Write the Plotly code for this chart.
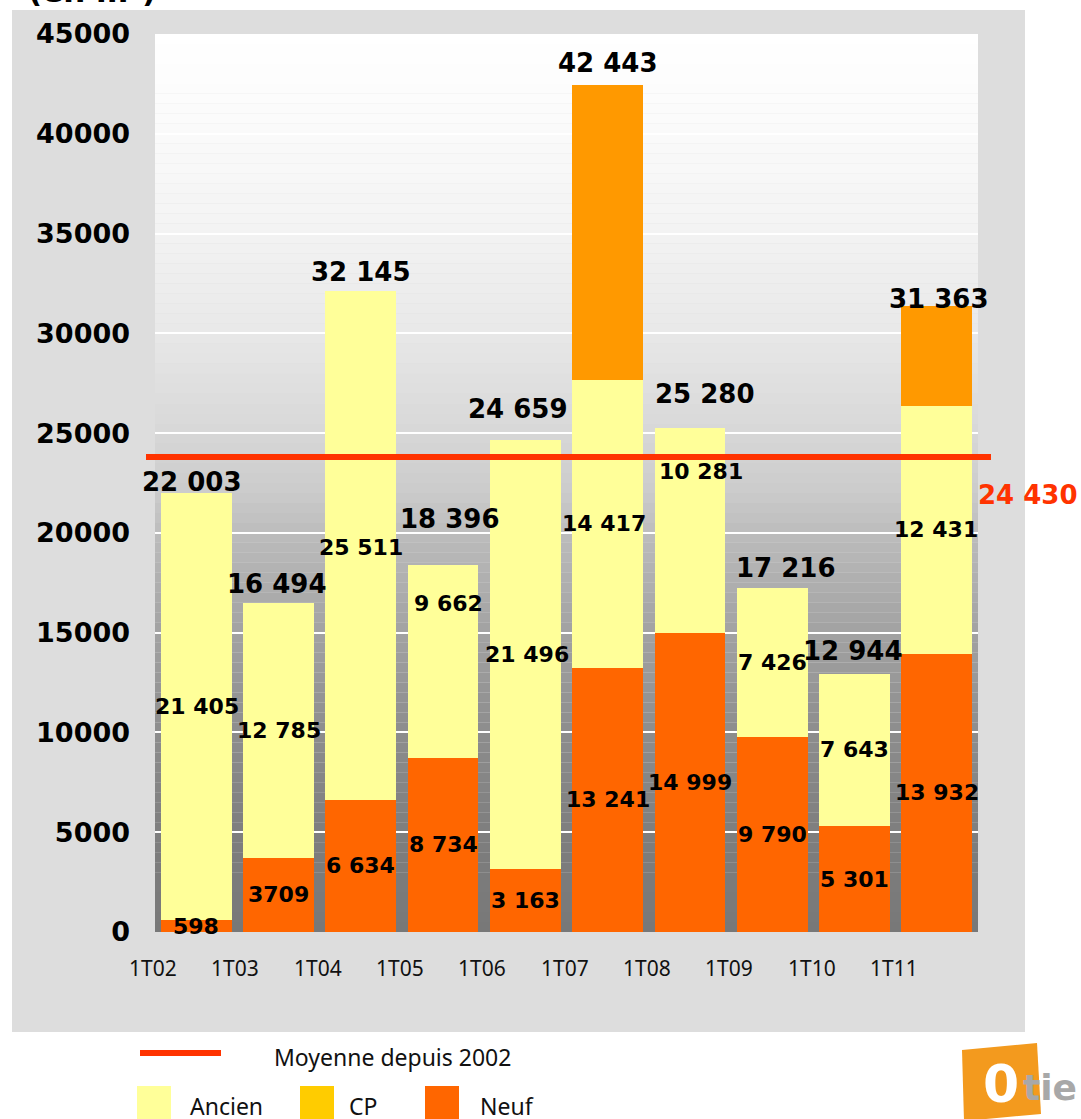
import numpy as np
import plotly.graph_objects as go

# ---------------- data ----------------
categories = ["1T02", "1T03", "1T04", "1T05", "1T06", "1T07", "1T08", "1T09", "1T10", "1T11"]
neuf = [598, 3709, 6634, 8734, 3163, 13241, 14999, 9790, 5301, 13932]
ancien = [21405, 12785, 25511, 9662, 21496, 14417, 10281, 7426, 7643, 12431]
cp = [0, 0, 0, 0, 0, 14785, 0, 0, 0, 5000]
totals = [22003, 16494, 32145, 18396, 24659, 42443, 25280, 17216, 12944, 31363]
moyenne_line = 23800          # where the line is drawn in the picture
moyenne_label = "24 430"
y_ticks = [0, 5000, 10000, 15000, 20000, 25000, 30000, 35000, 40000, 45000]

series_names = ["Ancien", "CP", "Neuf"]
series_colors = {"Neuf": "#FF6600", "Ancien": "#FFFF99", "CP": "#FF9900"}
legend_colors = {"Ancien": "#FFFF99", "CP": "#FFCC00", "Neuf": "#FF6600"}
line_color = "#FF3300"


def fr(v):
    return f"{v:,}".replace(",", " ")


neuf_text = [fr(v) for v in neuf]
neuf_text[1] = "3709"  # as written on the original
ancien_text = [fr(v) for v in ancien]
total_text = [fr(v) for v in totals]

# small label nudges (pixels) to mimic the original placement
total_dx = [-4, -1, 0, 7, -7, 0, 15, 14, -2, 2]
total_dy = [11, 19, 19, 46, 31, 22, 34, 20, 23, 7]
ancien_dx = [1, 1, 0, 5, 2, -4, 11, 0, 0, -1]
ancien_dy = [0, 0, -2, 58, 0, 0, 59, 0, 0, 0]

# ---------------- geometry ----------------
W, H = 1081, 1119
L, T = 155, 34
R = W - L - 823
B = H - T - 898
PW, PH = W - L - R, H - T - B
Y_MAX = 45000


def px(x):
    # page pixel -> paper coordinate
    return (x - L) / PW


def py(y):
    return (H - B - y) / PH


fig = go.Figure()
fig.add_trace(go.Bar(x=categories, y=neuf, name="Neuf", marker=dict(color=series_colors["Neuf"], line=dict(width=0)), showlegend=False))
fig.add_trace(go.Bar(x=categories, y=ancien, name="Ancien", marker=dict(color=series_colors["Ancien"], line=dict(width=0)), showlegend=False))
fig.add_trace(go.Bar(x=categories, y=cp, name="CP", marker=dict(color=series_colors["CP"], line=dict(width=0)), showlegend=False))

shapes = []
# outer grey panel
shapes.append(dict(type="rect", xref="paper", yref="paper", x0=px(12), x1=px(1025), y0=py(10), y1=py(1032),
                   fillcolor="#DDDDDD", line=dict(width=0), layer="below"))
# gradient background of plot area
stops_v = [0, 5000, 10000, 15000, 20000, 22000, 25000, 30000, 35000, 40000, 45000]
stops_g = [120, 126, 141, 162, 188, 203, 215, 232, 243, 250, 255]
n = 90
for i in range(n):
    y0 = Y_MAX * i / n
    y1 = Y_MAX * (i + 1) / n
    g = int(round(np.interp((y0 + y1) / 2, stops_v, stops_g)))
    shapes.append(dict(type="rect", xref="x", yref="y", x0=-0.5, x1=len(categories) - 0.5, y0=y0, y1=y1,
                       fillcolor=f"rgb({g},{g},{g})", line=dict(width=0), layer="below"))
# average line
shapes.append(dict(type="line", xref="paper", yref="paper", x0=px(146), x1=px(991),
                   y0=moyenne_line / Y_MAX, y1=moyenne_line / Y_MAX,
                   line=dict(color=line_color, width=6), layer="above"))
# legend: line sample + squares
shapes.append(dict(type="line", xref="paper", yref="paper", x0=px(140), x1=px(221), y0=py(1053), y1=py(1053),
                   line=dict(color=line_color, width=6)))
legend_sq = {"Ancien": (137, 188), "CP": (300, 347), "Neuf": (425, 478)}
for name in series_names:
    x0, _ = legend_sq[name]
    shapes.append(dict(type="rect", xref="paper", yref="paper", x0=px(x0), x1=px(x0 + 34), y0=py(1086), y1=py(1121),
                       fillcolor=legend_colors[name], line=dict(width=0)))
# logo
shapes.append(dict(type="path", xref="paper", yref="paper",
                   path=f"M {px(962)},{py(1050)} L {px(1037)},{py(1043)} L {px(1041)},{py(1114)} L {px(964)},{py(1121)} Z",
                   fillcolor="#F39A1E", line=dict(width=0)))

ann = []
bold = dict(family="DejaVu Sans", weight="bold", color="#000000")
for i, c in enumerate(categories):
    # totals
    ann.append(dict(x=c, y=totals[i], xref="x", yref="y", text=total_text[i], showarrow=False,
                    xanchor="center", yanchor="middle", xshift=total_dx[i], yshift=total_dy[i],
                    font=dict(size=26, **bold)))
    # neuf labels
    ann.append(dict(x=c, y=neuf[i] / 2, xref="x", yref="y", text=neuf_text[i], showarrow=False,
                    xanchor="center", yanchor="middle", font=dict(size=22, **bold)))
    # ancien labels
    ann.append(dict(x=c, y=neuf[i] + ancien[i] / 2, xref="x", yref="y", text=ancien_text[i], showarrow=False,
                    xanchor="center", yanchor="middle", xshift=ancien_dx[i], yshift=ancien_dy[i],
                    font=dict(size=22, **bold)))
    # category labels (sit on the left boundary of each category)
    ann.append(dict(x=c, y=0, xref="x", yref="paper", text=c, showarrow=False,
                    xanchor="center", yanchor="middle", xshift=-43, yshift=-36,
                    font=dict(family="Noto Sans", size=21, color="#111111")))

# average value label
ann.append(dict(x=px(1028), y=py(495), xref="paper", yref="paper", text=moyenne_label, showarrow=False,
                xanchor="center", yanchor="middle", font=dict(family="DejaVu Sans", weight="bold", size=26, color=line_color)))
# cut-off unit title
ann.append(dict(x=px(26), y=py(-9), xref="paper", yref="paper", text="(en m²)", showarrow=False,
                xanchor="left", yanchor="middle", font=dict(family="DejaVu Sans", weight="bold", size=31, color="#000")))
# legend texts
legend_font = dict(family="Noto Sans", size=23, color="#111111")
ann.append(dict(x=px(272), y=py(1057), xref="paper", yref="paper", text="Moyenne depuis 2002", showarrow=False,
                xanchor="left", yanchor="middle", font=legend_font))
for name in series_names:
    _, tx = legend_sq[name]
    ann.append(dict(x=px(tx), y=py(1106), xref="paper", yref="paper", text=name, showarrow=False,
                    xanchor="left", yanchor="middle", font=legend_font))
# logo text
ann.append(dict(x=px(1001), y=py(1084), xref="paper", yref="paper", text="0", showarrow=False,
                xanchor="center", yanchor="middle", font=dict(family="DejaVu Sans", weight="bold", size=52, color="#FFFFFF")))
ann.append(dict(x=px(1050), y=py(1087), xref="paper", yref="paper", text="tie", showarrow=False,
                xanchor="center", yanchor="middle", font=dict(family="DejaVu Sans", weight="bold", size=36, color="#A8A8A8")))

fig.update_layout(
    width=W, height=H,
    margin=dict(l=L, r=R, t=T, b=B, pad=0),
    paper_bgcolor="#FFFFFF",
    plot_bgcolor="rgba(0,0,0,0)",
    barmode="stack",
    bargap=0.14,
    showlegend=False,
    shapes=shapes,
    annotations=ann,
    xaxis=dict(type="category", range=[-0.5, len(categories) - 0.5], showticklabels=False,
               showgrid=False, zeroline=False, showline=False, ticks=""),
    yaxis=dict(range=[0, Y_MAX], tickvals=y_ticks, tickformat="d", showgrid=True, gridcolor="#FFFFFF",
               gridwidth=2, zeroline=False, showline=False, ticks="", ticklabelstandoff=24,
               tickfont=dict(family="DejaVu Sans", weight="bold", size=27, color="#000000")),
)

fig.write_html("out.html", config={"displayModeBar": False},
               post_script="document.body.style.margin='0';document.body.style.overflow='hidden';")
